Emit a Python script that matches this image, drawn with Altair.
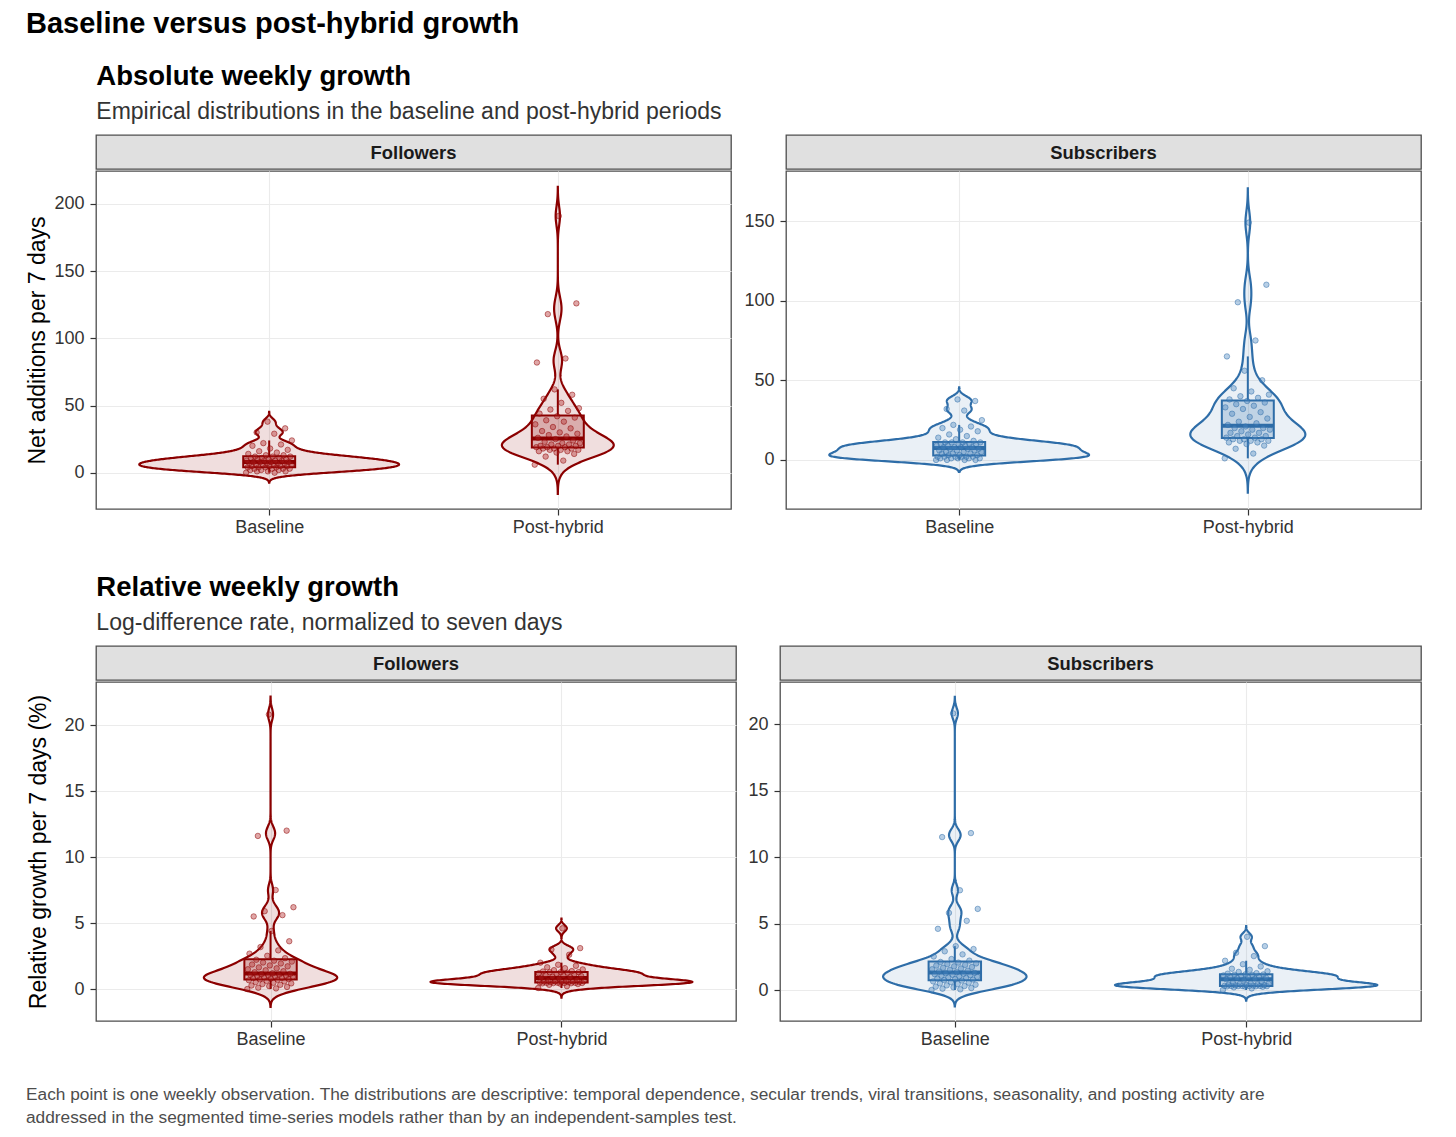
import altair as alt
import numpy as np
import pandas as pd

FONT = "Liberation Sans"
RED = "#8B0000"
RED_PT = "#B22222"
BLUE = "#2E6DA8"
BLUE_PT = "#4A86C0"

PERIODS = ["Baseline", "Post-hybrid"]

# ---- Absolute weekly growth (net additions per 7 days) ----
followers_abs_baseline = [0, 0, 1, 1, 1, 2, 2, 2, 3, 3, 3, 3, 4, 4, 4,
                          4, 5, 5, 5, 5, 6, 6, 6, 6, 7, 7, 7, 7, 8, 8,
                          8, 8, 9, 9, 9, 9, 10, 10, 10, 11, 11, 11, 12, 12, 12,
                          13, 13, 14, 15, 16, 17, 18, 20, 21, 22, 24, 29, 30, 33, 38]
followers_abs_post = [6, 9, 12, 14, 15, 16, 16, 17, 17, 17, 18, 18, 18,
                      19, 19, 19, 20, 20, 20, 21, 21, 22, 22, 23, 24, 25,
                      26, 27, 28, 29, 30, 31, 33, 34, 36, 38, 39, 41, 42,
                      44, 46, 47, 48, 52, 55, 58, 62, 82, 85, 118, 126, 191]
subscribers_abs_baseline = [0, 0, 0, 0, 1, 1, 1, 1, 1, 2, 2, 2, 2, 2, 2,
                            3, 3, 3, 4, 4, 4, 5, 5, 5, 6, 6, 6, 7, 7, 7,
                            8, 8, 8, 8, 9, 9, 9, 10, 10, 10, 10, 11, 11, 11, 11,
                            12, 13, 14, 15, 16, 18, 19, 20, 21, 22, 25, 31, 32, 37, 38]
subscribers_abs_post = [1, 4, 7, 9, 10, 11, 11, 12, 12, 12, 13, 13, 13,
                        14, 14, 15, 15, 16, 17, 17, 18, 19, 19, 20, 20, 21,
                        22, 23, 24, 26, 27, 29, 30, 32, 33, 34, 35, 36, 37,
                        38, 39, 40, 41, 43, 45, 50, 56, 65, 75, 99, 110, 149]

# ---- Relative weekly growth (% per 7 days) ----
followers_rel_baseline = [0.00, 0.05, 0.10, 0.16, 0.22, 0.27, 0.32, 0.38, 0.43, 0.48, 0.53, 0.58, 0.62, 0.67, 0.71,
                          0.74, 0.77, 0.80, 0.83, 0.86, 0.89, 0.92, 0.95, 0.98, 1.01, 1.04, 1.07, 1.10, 1.13, 1.15,
                          1.19, 1.27, 1.35, 1.42, 1.50, 1.57, 1.64, 1.72, 1.79, 1.86, 1.94, 2.01, 2.08, 2.15, 2.22,
                          2.34, 2.52, 2.68, 2.93, 3.18, 3.62, 4.40, 5.50, 5.60, 5.90, 6.20, 7.50, 11.6, 12.0, 20.8]
followers_rel_post = [0.08, 0.22, 0.32, 0.38, 0.41, 0.43, 0.44, 0.45, 0.46, 0.46, 0.47, 0.47, 0.48,
                      0.50, 0.52, 0.53, 0.55, 0.56, 0.57, 0.58, 0.59, 0.60, 0.62, 0.64, 0.68, 0.80,
                      0.86, 0.90, 0.94, 0.99, 1.03, 1.07, 1.12, 1.16, 1.20, 1.24, 1.27, 1.28, 1.28,
                      1.33, 1.36, 1.43, 1.49, 1.58, 1.65, 1.76, 1.84, 2.00, 2.60, 3.00, 3.10, 4.60]
subscribers_rel_baseline = [0.00, 0.05, 0.10, 0.15, 0.20, 0.25, 0.30, 0.35, 0.40, 0.45, 0.50, 0.55, 0.60, 0.65, 0.71,
                            0.75, 0.79, 0.83, 0.87, 0.91, 0.95, 0.99, 1.03, 1.07, 1.11, 1.15, 1.19, 1.22, 1.26, 1.29,
                            1.34, 1.40, 1.45, 1.51, 1.56, 1.62, 1.67, 1.73, 1.78, 1.84, 1.89, 1.95, 2.00, 2.06, 2.11,
                            2.21, 2.33, 2.52, 2.68, 2.91, 3.08, 3.30, 4.60, 5.20, 5.80, 6.10, 7.50, 11.5, 11.8, 20.8]
subscribers_rel_post = [0.00, 0.12, 0.20, 0.24, 0.26, 0.27, 0.28, 0.29, 0.29, 0.30, 0.30, 0.30, 0.30,
                        0.31, 0.33, 0.35, 0.37, 0.39, 0.41, 0.43, 0.45, 0.47, 0.50, 0.54, 0.60, 0.78,
                        0.82, 0.86, 0.90, 0.94, 0.98, 1.01, 1.04, 1.07, 1.10, 1.13, 1.15, 1.17, 1.18,
                        1.23, 1.27, 1.36, 1.41, 1.52, 1.60, 1.77, 1.94, 2.20, 2.55, 2.80, 3.30, 4.00]

CAPTION = [
    "Each point is one weekly observation. The distributions are descriptive: temporal dependence, secular trends, viral transitions, seasonality, and posting activity are",
    "addressed in the segmented time-series models rather than by an independent-samples test.",
]


def nrd0(x):
    x = np.asarray(x, float)
    sd = x.std(ddof=1)
    q75, q25 = np.percentile(x, [75, 25])
    lo = min(sd, (q75 - q25) / 1.34)
    return 0.9 * lo * len(x) ** -0.2


def peak_density(x, bw, lo, hi):
    x = np.asarray(x, float)
    grid = np.linspace(lo, hi, 512)
    d = np.exp(-0.5 * ((grid[:, None] - x[None, :]) / bw) ** 2).sum(1)
    d = d / (len(x) * bw * np.sqrt(2 * np.pi))
    return d.max()


def strip(label, width):
    return alt.Chart(alt.Data(values=[{"lab": label}])).mark_text(
        font=FONT, fontSize=18.4, fontWeight="bold", color="#1A1A1A"
    ).encode(
        x=alt.value(width / 2), y=alt.value(18), text="lab:N"
    ).properties(
        width=width, height=34,
        view=alt.ViewBackground(fill="#E0E0E0", stroke="#4D4D4D", strokeWidth=1.3),
    )


def panel(label, base, post, line, pt, fill_op, ydomain, yticks, ytitle, width, height, min_ext):
    df = pd.DataFrame({
        "period": [PERIODS[0]] * len(base) + [PERIODS[1]] * len(post),
        "pos": [1] * len(base) + [2] * len(post),
        "v": list(base) + list(post),
        "i": list(range(len(base))) + list(range(len(post))),
    })
    groups = [base, post]
    bws = [nrd0(g) for g in groups]
    exts = [(min(g) - 3 * bw, max(g) + 3 * bw) for g, bw in zip(groups, bws)]
    dmax = max(peak_density(g, bw, lo, hi) for g, bw, (lo, hi) in zip(groups, bws, exts))
    half = 0.45 / dmax

    xs = alt.Scale(domain=[0.4, 2.6], nice=False, zero=False)
    ys = alt.Scale(domain=ydomain, nice=False, zero=False)
    xax = alt.Axis(values=[1, 2], labelExpr="datum.value == 1 ? 'Baseline' : 'Post-hybrid'",
                   title=None, grid=True, labelPadding=3)
    if ytitle:
        yax = alt.Axis(values=yticks, title=ytitle, grid=True, minExtent=min_ext, titlePadding=4)
    else:
        yax = alt.Axis(values=yticks, title=None, grid=True, minExtent=min_ext)

    src = alt.Chart(df)
    layers = []
    for k, (bw, (lo, hi)) in enumerate(zip(bws, exts), start=1):
        vio = src.transform_filter(f"datum.pos == {k}").transform_density(
            "v", as_=["v", "density"], bandwidth=float(bw), extent=[float(lo), float(hi)], steps=400
        ).transform_calculate(
            xl=f"{k} - {half} * datum.density", xr=f"{k} + {half} * datum.density"
        ).mark_area(
            orient="horizontal", fill=line, fillOpacity=fill_op, stroke=line, strokeWidth=2.2
        ).encode(
            y=alt.Y("v:Q", scale=ys, axis=yax),
            x=alt.X("xl:Q", scale=xs, axis=xax),
            x2="xr:Q",
        )
        layers.append(vio)

    stats = src.transform_joinaggregate(
        q1="q1(v)", med="median(v)", q3="q3(v)", groupby=["pos"]
    ).transform_calculate(
        lof="datum.q1 - 1.5 * (datum.q3 - datum.q1)",
        hif="datum.q3 + 1.5 * (datum.q3 - datum.q1)",
    ).transform_filter(
        "datum.v >= datum.lof && datum.v <= datum.hif"
    ).transform_aggregate(
        wlo="min(v)", whi="max(v)", groupby=["pos", "q1", "med", "q3"]
    ).transform_calculate(
        bl="datum.pos - 0.09", br="datum.pos + 0.09"
    )
    box = stats.mark_rect(fill=line, fillOpacity=0.22, stroke=line, strokeWidth=2).encode(
        x=alt.X("bl:Q", scale=xs, axis=xax), x2="br:Q",
        y=alt.Y("q1:Q", scale=ys, axis=yax), y2="q3:Q",
    )
    med = stats.mark_rule(color=line, strokeWidth=4).encode(
        x=alt.X("bl:Q", scale=xs, axis=xax), x2="br:Q",
        y=alt.Y("med:Q", scale=ys, axis=yax),
    )
    wup = stats.mark_rule(color=line, strokeWidth=2).encode(
        x=alt.X("pos:Q", scale=xs, axis=xax),
        y=alt.Y("q3:Q", scale=ys, axis=yax), y2="whi:Q",
    )
    wdn = stats.mark_rule(color=line, strokeWidth=2).encode(
        x=alt.X("pos:Q", scale=xs, axis=xax),
        y=alt.Y("wlo:Q", scale=ys, axis=yax), y2="q1:Q",
    )
    pts = src.transform_calculate(
        jx="datum.pos + ((datum.i * 0.6180339887) % 1 - 0.5) * 0.16"
    ).mark_circle(
        size=30, fill=pt, fillOpacity=0.4, stroke=line, strokeOpacity=0.55, strokeWidth=0.9
    ).encode(
        x=alt.X("jx:Q", scale=xs, axis=xax),
        y=alt.Y("v:Q", scale=ys, axis=yax),
    )
    main = alt.layer(*layers, box, med, wup, wdn, pts).properties(width=width, height=height)
    return alt.vconcat(strip(label, width), main, spacing=0)


sec_title = dict(anchor="start", font=FONT, fontSize=27.5, fontWeight="bold", color="#000000",
                 subtitleFont=FONT, subtitleFontSize=23, subtitleColor="#333333",
                 subtitlePadding=11, offset=10, dx=70)

top_row = alt.hconcat(
    panel("Followers", followers_abs_baseline, followers_abs_post, RED, RED_PT, 0.13,
          [-27, 224.5], [0, 50, 100, 150, 200], "Net additions per 7 days", 635, 338, 42),
    panel("Subscribers", subscribers_abs_baseline, subscribers_abs_post, BLUE, BLUE_PT, 0.10,
          [-30.8, 181.4], [0, 50, 100, 150], None, 635, 338, 0),
    spacing=11,
    title=alt.TitleParams("Absolute weekly growth",
                          subtitle="Empirical distributions in the baseline and post-hybrid periods", **sec_title),
).resolve_scale(x="independent", y="independent")

bottom_row = alt.hconcat(
    panel("Followers", followers_rel_baseline, followers_rel_post, RED, RED_PT, 0.13,
          [-2.42, 23.26], [0, 5, 10, 15, 20], "Relative growth per 7 days (%)", 640, 339, 42),
    panel("Subscribers", subscribers_rel_baseline, subscribers_rel_post, BLUE, BLUE_PT, 0.10,
          [-2.33, 23.16], [0, 5, 10, 15, 20], None, 641, 339, 0),
    spacing=10,
    title=alt.TitleParams("Relative weekly growth",
                          subtitle="Log-difference rate, normalized to seven days", **sec_title),
).resolve_scale(x="independent", y="independent")

caption = alt.Chart(alt.Data(values=[{"c": 1}])).mark_text(
    text=CAPTION, font=FONT, fontSize=17.3, color="#4D4D4D", align="left", baseline="top", lineHeight=23
).encode(
    x=alt.value(-70), y=alt.value(1)
).properties(
    width=1300, height=44, view=alt.ViewBackground(stroke="#FFFFFF", strokeOpacity=0)
)

chart = alt.vconcat(
    top_row, bottom_row, caption, spacing=36,
    title=alt.TitleParams("Baseline versus post-hybrid growth", anchor="start", font=FONT,
                          fontSize=29, fontWeight="bold", color="#000000", offset=24),
).resolve_scale(x="independent", y="independent").properties(
    padding={"left": 18, "top": 1, "right": 10, "bottom": 10}
).configure(
    font=FONT
).configure_view(
    stroke="#4D4D4D", strokeWidth=1.3
).configure_axis(
    labelFont=FONT, labelFontSize=18, labelColor="#333333",
    titleFont=FONT, titleFontSize=23, titleFontWeight="normal", titleColor="#000000",
    tickColor="#333333", tickSize=6, tickWidth=1.2, labelPadding=6, domain=False,
    gridColor="#EBEBEB", gridWidth=1.1,
)

chart.save("out.html", embed_options={"renderer": "svg", "actions": False})
